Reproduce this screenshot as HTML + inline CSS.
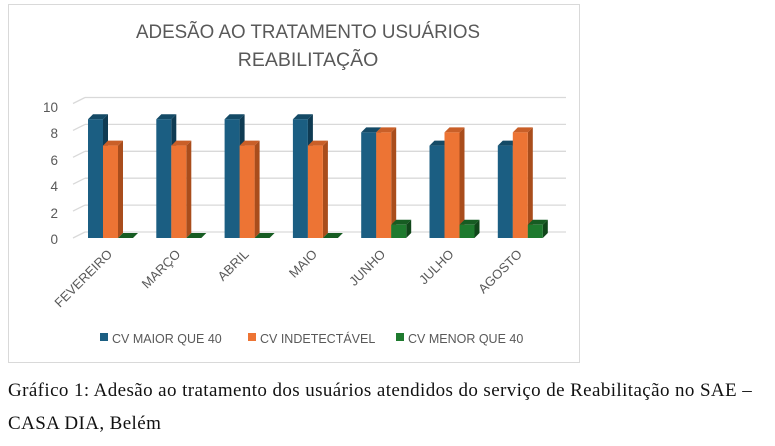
<!DOCTYPE html>
<html><head><meta charset="utf-8"><style>
body{margin:0;width:775px;height:446px;background:#fff;overflow:hidden;font-family:"Liberation Sans",sans-serif}
.cap{position:absolute;left:8px;font-family:"Liberation Serif",serif;font-size:19px;letter-spacing:0.4px;color:#111;white-space:nowrap}
</style></head><body>
<div style="position:absolute;left:8px;top:4px;width:572px;height:359px;border:1px solid #d9d9d9;box-sizing:border-box"></div>
<svg id="s" width="775" height="446" style="position:absolute;left:0;top:0" font-family="Liberation Sans, sans-serif">
<text x="308" y="38" text-anchor="middle" font-size="19.5" fill="#595959" textLength="344" lengthAdjust="spacingAndGlyphs">ADESÃO AO TRATAMENTO USUÁRIOS</text>
<text x="308" y="66" text-anchor="middle" font-size="19.5" fill="#595959">REABILITAÇÃO</text>
<g font-size="13.5" fill="#595959" text-anchor="end">
<text x="58" y="112">10</text><text x="58" y="138">8</text><text x="58" y="165">6</text><text x="58" y="191">4</text><text x="58" y="218">2</text><text x="58" y="244">0</text>
</g>
<g id="g"></g>
<g font-size="12.5" fill="#595959">
<rect x="100" y="333" width="8" height="8" fill="#1b5e82"/><text x="112" y="343">CV MAIOR QUE 40</text>
<rect x="248" y="333" width="8" height="8" fill="#ed7434"/><text x="260" y="343">CV INDETECTÁVEL</text>
<rect x="396" y="333" width="8" height="8" fill="#1e7a2e"/><text x="408" y="343">CV MENOR QUE 40</text>
</g>
</svg>
<div class="cap" style="top:380px">Gráfico 1: Adesão ao tratamento dos usuários atendidos do serviço de Reabilitação no SAE –</div>
<div class="cap" style="top:413px">CASA DIA, Belém</div>
<script>
var g=document.getElementById('g'),h='';
for(var v=0;v<=10;v+=2){var y=232-13.45*v;h+='<line x1="85" y1="'+y+'" x2="566" y2="'+y+'" stroke="#d9d9d9" stroke-width="1.3"/><line x1="73" y1="'+(y+6)+'" x2="85" y2="'+y+'" stroke="#d9d9d9" stroke-width="1.3"/>';}
var d=[[9,9,9,9,8,7,7],[7,7,7,7,8,8,8],[0,0,0,0,1,1,1]];
var c=[['#1b5e82','#0f3b53','#144a66'],['#ed7434','#a94d1c','#c95f28'],['#1e7a2e','#10461a','#165c22']];
var m=['FEVEREIRO','MARÇO','ABRIL','MAIO','JUNHO','JULHO','AGOSTO'];
var B=238,S=13.2,W=15,dx=5,dy=5;
for(var i=0;i<7;i++){var x0=88+i*68.3;
for(var k=0;k<3;k++){var x=x0+k*W,t=B-d[k][i]*S;
h+='<polygon points="'+(x+W)+','+t+' '+(x+W+dx)+','+(t-dy)+' '+(x+W+dx)+','+(B-dy)+' '+(x+W)+','+B+'" fill="'+c[k][1]+'"/>';
h+='<polygon points="'+x+','+t+' '+(x+dx)+','+(t-dy)+' '+(x+W+dx)+','+(t-dy)+' '+(x+W)+','+t+'" fill="'+c[k][2]+'"/>';
if(d[k][i]>0)h+='<rect x="'+x+'" y="'+t+'" width="'+W+'" height="'+(B-t)+'" fill="'+c[k][0]+'"/>';}
var lx=x0+25,ly=255;
h+='<text transform="translate('+lx+','+ly+') rotate(-45)" text-anchor="end" font-size="13" fill="#595959">'+m[i]+'</text>';}
g.innerHTML=h;
</script>
</body></html>
